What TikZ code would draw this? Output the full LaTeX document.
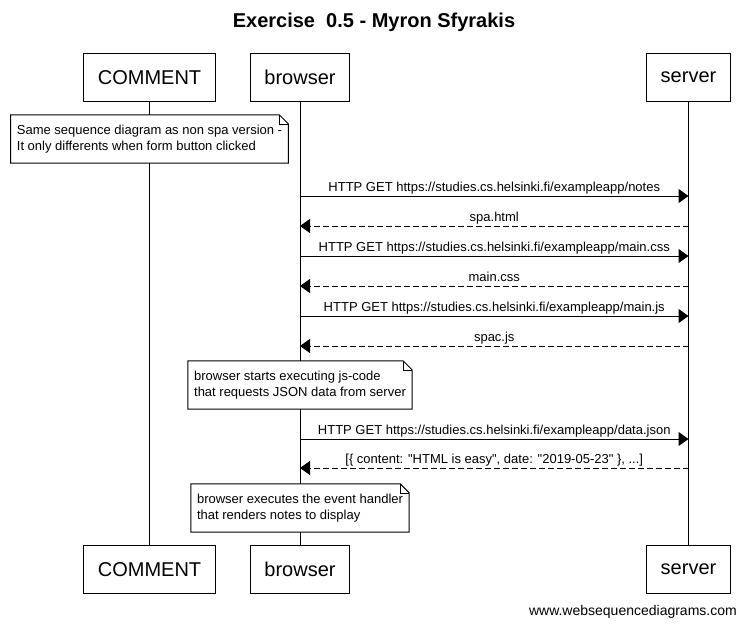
\documentclass[tikz,border=0pt]{standalone}
\usepackage{fontspec}
\setmainfont{Liberation Sans}
\usetikzlibrary{arrows.meta,positioning,calc}
\tikzset{
  actor/.style   = {draw,line width=1pt,fill=white,minimum height=48pt,
                     inner xsep=14pt,font=\fontsize{20}{24}\selectfont},
  life/.style    = {line width=1pt},
  note/.style    = {fill=white,align=left,inner xsep=6pt,inner ysep=8pt,
                     minimum height=48pt,font=\fontsize{13}{16}\selectfont},
  req/.style     = {-{Triangle[length=10pt,width=14pt]},line width=1pt},
  resp/.style    = {req,dash pattern=on 6pt off 3pt},
  msglbl/.style  = {anchor=base,yshift=5pt,inner sep=0pt,
                     font=\fontsize{13}{16}\selectfont},
}
\newcommand{\noteframe}[1]{%
  \draw[line width=1pt] (#1.south west) -- (#1.north west)
        -- ([xshift=-9pt]#1.north east) -- ([yshift=-9pt]#1.north east)
        -- (#1.south east) -- cycle;
  \draw ([xshift=-9pt]#1.north east) |- ([yshift=-9pt]#1.north east);
}

\begin{document}
\begin{tikzpicture}[x=1pt,y=-1pt]
  \useasboundingbox[fill=white] (0,0) rectangle (746,629);
  \node[font=\fontsize{20}{24}\selectfont\bfseries] (title) at (374,22)
        {Exercise\ \ 0.5 - Myron Sfyrakis};

  % participants, top and bottom
  \foreach \nm/\txt/\x in {cmt/COMMENT/149.5, brw/browser/300, srv/server/688.5}{
    \node[actor] (\nm-top) at (\x,77.5) {\txt};
    \node[actor] (\nm-bot) at (\x,569.5) {\txt};
    \draw[life] (\nm-top) -- (\nm-bot);
  }

  \node[note] (n1) at (cmt-top |- 0,139)
        {Same sequence diagram as non spa version -\\
         It only differents when form button clicked};
  \noteframe{n1}

  \draw[req] (brw-top |- 0,196) -- (srv-top |- 0,196)
        node[midway,msglbl]{HTTP GET https://studies.cs.helsinki.fi/exampleapp/notes};
  \draw[resp] (srv-top |- 0,226) -- (brw-top |- 0,226)
        node[midway,msglbl]{spa.html};
  \draw[req] (brw-top |- 0,256) -- (srv-top |- 0,256)
        node[midway,msglbl]{HTTP GET https://studies.cs.helsinki.fi/exampleapp/main.css};
  \draw[resp] (srv-top |- 0,286) -- (brw-top |- 0,286)
        node[midway,msglbl]{main.css};
  \draw[req] (brw-top |- 0,316) -- (srv-top |- 0,316)
        node[midway,msglbl]{HTTP GET https://studies.cs.helsinki.fi/exampleapp/main.js};
  \draw[resp] (srv-top |- 0,346) -- (brw-top |- 0,346)
        node[midway,msglbl]{spac.js};

  \node[note] (n2) at (brw-top |- 0,385)
        {browser starts executing js-code\\
         that requests JSON data from server};
  \noteframe{n2}

  \draw[req] (brw-top |- 0,439) -- (srv-top |- 0,439)
        node[midway,msglbl]{HTTP GET https://studies.cs.helsinki.fi/exampleapp/data.json};
  \draw[resp] (srv-top |- 0,468) -- (brw-top |- 0,468)
        node[midway,msglbl]{[\{ content: \textquotedbl HTML is easy\textquotedbl, date: \textquotedbl 2019-05-23\textquotedbl\ \}, ...]};

  \node[note] (n3) at (brw-top |- 0,508)
        {browser executes the event handler\\
         that renders notes to display};
  \noteframe{n3}

  \node[anchor=east,inner sep=0pt,font=\fontsize{14}{17}\selectfont] (wsd)
        at (737,612) {www.websequencediagrams.com};
\end{tikzpicture}
\end{document}
